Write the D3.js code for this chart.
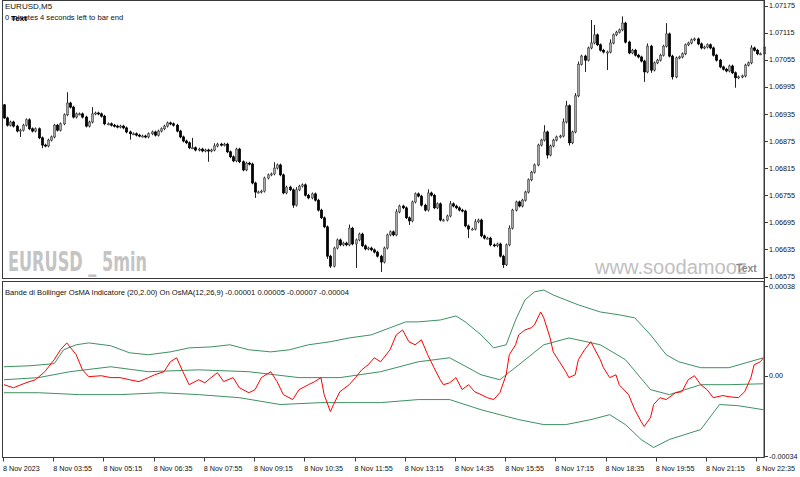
<!DOCTYPE html>
<html>
<head>
<meta charset="utf-8">
<script src="https://cdn.jsdelivr.net/npm/d3@7"></script>
<style>
  body { margin: 0; background: #fff; }
  svg text { font-family: "Liberation Sans", Arial, sans-serif; }
</style>
</head>
<body>
<svg id="chart" width="800" height="477"></svg>
<script>
// ---- data ----
const symbol = "EURUSD,M5";
const timerText = "0 minutes 4 seconds left to bar end";
const indLabel = "Bande di Bollinger OsMA Indicatore (20,2.00) On OsMA(12,26,9) -0.00001 0.00005 -0.00007 -0.00004";

const firstOpen = 1.06955;
// close of every M5 bar, 02:35 .. 22:45
const closes = [
  1.06926,1.06910,1.06917,1.06908,1.06897,1.06899,1.06910,1.06922,1.06902,1.06897,
  1.06902,1.06882,1.06866,1.06864,1.06877,1.06884,1.06910,1.06899,1.06913,1.06933,
  1.06959,1.06950,1.06928,1.06935,1.06935,1.06928,1.06908,1.06917,1.06935,1.06937,
  1.06935,1.06930,1.06913,1.06913,1.06910,1.06908,1.06906,1.06908,1.06904,1.06895,
  1.06891,1.06891,1.06888,1.06886,1.06886,1.06884,1.06891,1.06895,1.06888,1.06897,
  1.06902,1.06908,1.06915,1.06913,1.06910,1.06897,1.06884,1.06875,1.06871,1.06860,
  1.06860,1.06855,1.06857,1.06853,1.06855,1.06853,1.06855,1.06864,1.06868,1.06866,
  1.06868,1.06851,1.06840,1.06831,1.06857,1.06829,1.06811,1.06826,1.06824,1.06782,
  1.06762,1.06762,1.06764,1.06793,1.06800,1.06802,1.06815,1.06822,1.06800,1.06760,
  1.06773,1.06767,1.06733,1.06767,1.06775,1.06778,1.06755,1.06749,1.06758,1.06744,
  1.06722,1.06705,1.06685,1.06620,1.06598,1.06638,1.06656,1.06645,1.06649,1.06645,
  1.06682,1.06647,1.06656,1.06669,1.06643,1.06636,1.06638,1.06634,1.06629,1.06620,
  1.06607,1.06638,1.06667,1.06674,1.06667,1.06718,1.06731,1.06727,1.06705,1.06698,
  1.06740,1.06758,1.06753,1.06733,1.06722,1.06760,1.06755,1.06727,1.06736,1.06700,
  1.06700,1.06709,1.06736,1.06731,1.06727,1.06722,1.06720,1.06687,1.06680,1.06680,
  1.06696,1.06700,1.06665,1.06660,1.06660,1.06645,1.06643,1.06647,1.06620,1.06601,
  1.06645,1.06682,1.06722,1.06740,1.06731,1.06744,1.06762,1.06789,1.06806,1.06822,
  1.06866,1.06877,1.06895,1.06844,1.06864,1.06877,1.06884,1.06886,1.06917,1.06953,
  1.06871,1.06895,1.06975,1.07045,1.07063,1.07054,1.07081,1.07092,1.07110,1.07088,
  1.07076,1.07072,1.07072,1.07092,1.07110,1.07116,1.07121,1.07136,1.07094,1.07070,
  1.07076,1.07065,1.07061,1.07052,1.07028,1.07085,1.07032,1.07048,1.07054,1.07065,
  1.07085,1.07112,1.07063,1.07017,1.07059,1.07061,1.07068,1.07088,1.07092,1.07099,
  1.07101,1.07090,1.07081,1.07083,1.07088,1.07081,1.07065,1.07054,1.07039,1.07034,
  1.07030,1.07041,1.07026,1.07015,1.07017,1.07019,1.07043,1.07048,1.07081,1.07076,
  1.07068,1.07068,1.07083
];
// wick beyond the body, in points (0.00001)
const upWick = [
  2,3,3,3,3,3,3,3,3,3,3,3,3,3,3,3,3,3,3,3,
  24,3,3,3,3,3,3,3,15,3,3,3,3,3,3,3,3,3,3,3,
  3,3,3,3,3,3,3,3,3,3,3,3,3,3,3,3,3,3,3,3,
  22,3,3,3,3,3,3,6,3,3,3,3,3,3,3,3,3,3,3,3,
  3,3,3,3,3,3,13,3,3,3,3,3,3,6,3,3,3,3,3,3,
  3,3,3,3,3,3,3,3,3,3,8,3,3,3,3,3,3,3,3,3,
  3,3,3,3,3,6,3,3,3,3,3,3,3,3,3,8,3,3,3,3,
  3,3,6,3,3,3,3,3,3,3,6,3,3,3,3,3,3,3,3,3,
  3,6,3,3,3,3,3,3,3,3,3,3,15,3,3,3,3,3,8,11,
  3,3,6,6,3,3,3,51,22,3,3,3,3,8,3,3,3,15,3,3,
  3,3,3,3,3,6,3,3,3,3,3,24,3,3,3,3,3,3,3,3,
  3,3,3,3,3,3,3,3,3,3,3,3,3,3,3,3,3,3,6,3,
  3,3,3
];
const downWick = [
  2,3,3,3,3,13,3,3,3,3,3,3,7,3,3,3,3,3,3,3,
  3,3,3,3,3,3,3,3,3,3,3,3,3,3,3,3,3,3,3,3,
  13,3,3,3,3,3,3,3,3,3,3,3,3,3,3,3,3,3,3,3,
  3,3,3,3,3,24,3,3,3,3,3,3,3,3,3,3,3,3,3,3,
  13,3,3,3,3,3,3,3,3,3,3,3,6,3,3,3,3,3,3,3,
  3,3,3,6,4,3,3,3,3,3,3,3,53,3,3,3,3,3,3,3,
  22,3,3,3,3,3,3,3,3,9,3,3,3,3,3,3,3,3,3,3,
  3,3,3,3,3,3,3,3,20,3,3,3,3,3,3,3,3,3,3,7,
  3,3,3,3,3,3,3,3,3,3,3,3,3,8,3,3,3,3,3,3,
  6,3,3,3,3,26,3,3,3,3,3,3,40,3,3,3,3,3,3,3,
  3,3,3,3,22,3,6,3,3,3,3,3,3,6,3,3,3,3,3,3,
  3,3,3,3,3,3,3,3,3,3,3,3,3,22,3,3,3,3,3,3,
  3,3,3
];
const POINT = 0.00001;

const priceTicks = [1.07175,1.07115,1.07055,1.06995,1.06935,1.06875,1.06815,1.06755,1.06695,1.06635,1.06575];
const timeLabels = ["8 Nov 2023","8 Nov 03:55","8 Nov 05:15","8 Nov 06:35","8 Nov 07:55","8 Nov 09:15",
  "8 Nov 10:35","8 Nov 11:55","8 Nov 13:15","8 Nov 14:35","8 Nov 15:55","8 Nov 17:15",
  "8 Nov 18:35","8 Nov 19:55","8 Nov 21:15","8 Nov 22:35"];
const barsPerLabel = 16;
const oscTicks = [0.00038, 0, -0.00034];
const oscTickText = ["0.00038", "0.00", "-0.00034"];

// OsMA (red), bar index -> value in points
const osmaBar = [0,3,7,10,13,16,18,20,23,25,27,31,34,37,40,43,46,48,51,53,55,57,59,62,64,66,68,70,73,75,78,80,82,85,87,89,92,94,97,99,101,102,104,105,107,110,112,114,116,118,120,123,125,127,129,131,133,135,137,139,140,142,144,146,148,150,152,154,156,158,160,161,163,164,166,168,169,171,172,174,175,177,179,180,182,183,185,187,188,190,191,193,195,196,199,201,203,204,206,207,209,211,214,216,218,220,222,224,226,229,231,234,236,238,239,241,242];
const osmaVal = [-3.8,-5.1,-3.0,-1.7,1.7,6.8,11.0,13.9,8.9,2.5,-0.4,0,-0.8,-0.8,-1.7,-2.5,-0.8,0.4,1.7,5.9,7.6,1.7,-3.8,-1.7,-3.0,-0.8,1.3,-2.5,-0.8,-5.1,-7.2,-5.9,-0.8,1.7,-2.5,-8.0,-10.1,-5.9,-3.8,-2.5,-0.8,-8.0,-15.2,-12.2,-6.8,-3.8,-0.8,2.5,4.6,7.6,5.9,11.0,17.3,19.4,14.4,13.1,15.2,8.9,3.4,-1.7,-3.8,-3.0,-0.8,-5.9,-3.8,-6.8,-8.0,-9.3,-10.1,-7.2,0.4,8.9,13.1,17.3,19.4,20.3,21.5,27.0,24.5,16.0,10.1,5.9,1.7,-0.8,0.4,6.8,11.0,14.4,11.8,6.8,3.4,-0.8,0.4,-3.8,-8.0,-14.4,-19.4,-21.5,-17.7,-12.2,-9.3,-10.1,-7.2,-6.8,-1.7,0,-3.8,-5.9,-9.3,-8.4,-8.9,-9.3,-6.8,-0.8,4.6,5.9,7.6];

// Bollinger bands on OsMA (green), values in points
const upperBar = [0,8,16,19,23,27,34,40,46,53,59,66,72,78,85,91,97,104,110,117,123,128,132,139,144,147,152,156,160,163,166,169,172,175,179,183,190,196,201,206,211,215,222,231,242];
const upperVal = [3.8,4.2,5.1,11.0,13.1,13.9,12.7,9.7,8.9,10.1,11.8,12.2,13.1,11.0,10.1,11.0,13.1,14.4,16.0,17.3,20.3,22.8,22.8,23.6,25.3,22.8,17.3,11.8,13.1,23.6,32.1,35.5,36.3,34.2,32.1,30.0,27.0,25.8,24.5,17.3,8.9,5.9,3.4,3.4,7.6];
const middleBar = [0,11,21,34,46,62,78,94,107,120,132,142,152,158,164,172,180,190,198,206,212,222,231,242];
const middleVal = [-1.7,-0.8,1.7,3.8,1.7,2.5,1.7,-0.8,-0.8,1.7,5.9,7.6,0.4,-1.7,4.6,13.1,16.0,13.1,6.8,-5.9,-8.0,-3.8,-3.8,-3.4];
const lowerBar = [0,11,24,37,50,62,75,88,101,110,120,132,142,152,158,164,172,179,187,193,198,203,207,212,222,228,234,242];
const lowerVal = [-7.2,-7.2,-8.0,-8.0,-7.2,-8.0,-9.3,-12.2,-11.4,-11.4,-11.4,-10.1,-10.1,-14.4,-16.5,-18.6,-20.7,-20.7,-18.6,-16.5,-20.7,-27.0,-30.4,-27.0,-22.8,-12.2,-12.7,-14.4];

// ---- layout ----
const svg = d3.select("#chart");
const left = 2, right = 764;
const priceTop = 0.5, priceBottom = 278.5;
const oscTop = 281.5, oscBottom = 457.5;
const frame = "#3a3a3a";

const candles = closes.map((c, i) => {
  const o = i === 0 ? firstOpen : closes[i - 1];
  return {
    i: i, o: o, c: c,
    h: Math.max(o, c) + upWick[i] * POINT,
    l: Math.min(o, c) - downWick[i] * POINT
  };
});

const x = d3.scaleLinear().domain([0, closes.length - 1]).range([4, 763.5]);
const yPrice = d3.scaleLinear().domain([1.06575, 1.07175]).range([276.5, 5.5]);
const yOsc = d3.scaleLinear().domain([-0.00034, 0.00038]).range([456, 286]);

// frames
svg.append("rect").attr("x", left + 0.5).attr("y", priceTop)
  .attr("width", right - left - 0.5).attr("height", priceBottom - priceTop)
  .attr("fill", "none").attr("stroke", frame);
svg.append("rect").attr("x", left + 0.5).attr("y", oscTop)
  .attr("width", right - left - 0.5).attr("height", oscBottom - oscTop)
  .attr("fill", "none").attr("stroke", frame);

// watermark texts (behind candles)
svg.append("text").attr("x", 8).attr("y", 271)
  .attr("font-size", 27).attr("font-weight", "bold")
  .attr("textLength", 139).attr("lengthAdjust", "spacingAndGlyphs")
  .style("font-family", "'Liberation Sans Narrow','DejaVu Sans Condensed',sans-serif")
  .attr("fill", "#c4c4c4").text("EURUSD _ 5min");
svg.append("text").attr("x", 595).attr("y", 274)
  .attr("font-size", 20).attr("fill", "#c0c0c0")
  .attr("textLength", 152).attr("lengthAdjust", "spacingAndGlyphs")
  .text("www.soodamooz");
svg.append("text").attr("x", 736).attr("y", 272)
  .attr("font-size", 10.5).attr("font-weight", "bold").attr("fill", "#8a8a8a")
  .text("Text");

// candles
const cg = svg.append("g");
cg.selectAll("line.wick").data(candles).enter().append("line")
  .attr("class", "wick")
  .attr("x1", d => Math.round(x(d.i)) + 0.5).attr("x2", d => Math.round(x(d.i)) + 0.5)
  .attr("y1", d => yPrice(d.h)).attr("y2", d => yPrice(d.l))
  .attr("stroke", "#222").attr("stroke-width", 1);
cg.selectAll("rect.body").data(candles).enter().append("rect")
  .attr("class", "body")
  .attr("x", d => Math.round(x(d.i)) - 0.7)
  .attr("width", 2.4)
  .attr("y", d => yPrice(Math.max(d.o, d.c)))
  .attr("height", d => Math.max(1, Math.abs(yPrice(d.o) - yPrice(d.c))))
  .attr("fill", d => d.c >= d.o ? "#a8a8a8" : "#000")
  .attr("stroke", d => d.c >= d.o ? "#4a4a4a" : "#000")
  .attr("stroke-width", 0.6);

// price axis
svg.append("line").attr("x1", right + 0.5).attr("x2", right + 0.5)
  .attr("y1", 0).attr("y2", oscBottom).attr("stroke", frame);
const pa = svg.append("g");
pa.selectAll("line").data(priceTicks).enter().append("line")
  .attr("x1", right).attr("x2", right + 4)
  .attr("y1", d => Math.round(yPrice(d)) + 0.5).attr("y2", d => Math.round(yPrice(d)) + 0.5)
  .attr("stroke", frame);
pa.selectAll("text").data(priceTicks).enter().append("text")
  .attr("x", right + 5).attr("y", d => yPrice(d) + 2.6)
  .attr("font-size", 7.2).attr("fill", "#111")
  .text(d => d3.format(".5f")(d));

// oscillator axis
const oa = svg.append("g");
oa.selectAll("line").data(oscTicks).enter().append("line")
  .attr("x1", right).attr("x2", right + 4)
  .attr("y1", d => Math.round(yOsc(d)) + 0.5).attr("y2", d => Math.round(yOsc(d)) + 0.5)
  .attr("stroke", frame);
oa.selectAll("text").data(oscTicks).enter().append("text")
  .attr("x", right + 5).attr("y", d => yOsc(d) + 2.6)
  .attr("font-size", 7.2).attr("fill", "#111")
  .text((d, i) => oscTickText[i]);

// time axis
const ta = svg.append("g");
ta.selectAll("line").data(timeLabels).enter().append("line")
  .attr("x1", (d, i) => Math.round(x(i * barsPerLabel)) - 0.5)
  .attr("x2", (d, i) => Math.round(x(i * barsPerLabel)) - 0.5)
  .attr("y1", oscBottom).attr("y2", oscBottom + 4)
  .attr("stroke", frame);
ta.selectAll("text").data(timeLabels).enter().append("text")
  .attr("x", (d, i) => x(i * barsPerLabel) - 1).attr("y", 471)
  .attr("font-size", 7.2).attr("fill", "#111")
  .text(d => d);

// oscillator lines
const bandColor = "#3d9160";
function drawLine(bars, vals, color) {
  const pts = bars.map((b, k) => [b, vals[k] * POINT]);
  svg.append("path").datum(pts)
    .attr("fill", "none").attr("stroke", color).attr("stroke-width", 1)
    .attr("d", d3.line().x(d => x(d[0])).y(d => yOsc(d[1])));
}
drawLine(upperBar, upperVal, bandColor);
drawLine(middleBar, middleVal, bandColor);
drawLine(lowerBar, lowerVal, bandColor);
drawLine(osmaBar, osmaVal, "#ff0000");

// header texts
svg.append("text").attr("x", 5).attr("y", 9).attr("font-size", 8).attr("fill", "#111").text(symbol);
svg.append("text").attr("x", 5).attr("y", 20).attr("font-size", 7.6).attr("fill", "#111").text(timerText);
svg.append("text").attr("x", 11).attr("y", 20.5).attr("font-size", 8).attr("font-weight", "bold")
  .attr("fill", "#000").text("Text");
svg.append("text").attr("x", 5).attr("y", 294.5).attr("font-size", 7.6).attr("fill", "#111").text(indLabel);
</script>
</body>
</html>
